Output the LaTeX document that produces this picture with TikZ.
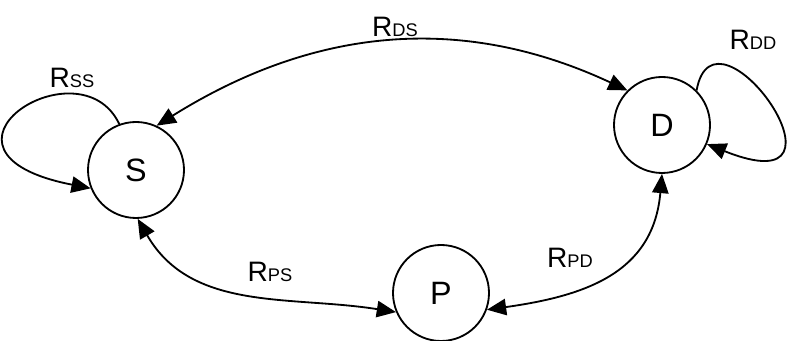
\documentclass[tikz,border=0pt]{standalone}
\usepackage{fontspec}
\setmainfont{Liberation Sans}
\usetikzlibrary{arrows.meta}

% rate label: big R with small-caps style indices
\newcommand{\rate}[1]{R{\fontsize{13}{13}\selectfont #1}}

\begin{document}
\begin{tikzpicture}[
    line width=1.3pt,
    >={Triangle[length=4.8mm,width=4.1mm]},
    state/.style={circle, draw, minimum size=2.4cm, inner sep=0pt, font=\fontsize{23}{23}\selectfont},
    ratelabel/.style={font=\fontsize{20}{20}\selectfont, inner sep=1pt}
  ]
  \useasboundingbox (0,0) rectangle (19.725,8.525);
  % States
  \node[state] (S) at (3.4,4.275) {S};
  \node[state] (D) at (16.55,5.4) {D};
  \node[state] (P) at (11.025,1.2) {P};
  % Transitions between states
  \draw[<->] (S.65) to[out=32,in=155] (D.135);
  \draw[<->] (S.-88) to[out=-60,in=171] (P.203);
  \draw[<->] (P.-20) to[out=8,in=-95,looseness=1.15] (D.-90);
  % Self loops
  \draw[->] (S.110) .. controls +(-1.0,2.1) and +(-4.6,0.9) .. (S.202);
  \draw[->] (D.45) .. controls +(0.45,2.5) and +(4.05,-1.625) .. (D.-23);
  % Rates
  \node[ratelabel] (rss) at (1.8,6.575) {\rate{SS}};
  \node[ratelabel] (rdd) at (18.825,7.525) {\rate{DD}};
  \node[ratelabel] (rds) at (9.875,7.85) {\rate{DS}};
  \node[ratelabel] (rps) at (6.75,1.725) {\rate{PS}};
  \node[ratelabel] (rpd) at (14.25,2.075) {\rate{PD}};
\end{tikzpicture}
\end{document}
